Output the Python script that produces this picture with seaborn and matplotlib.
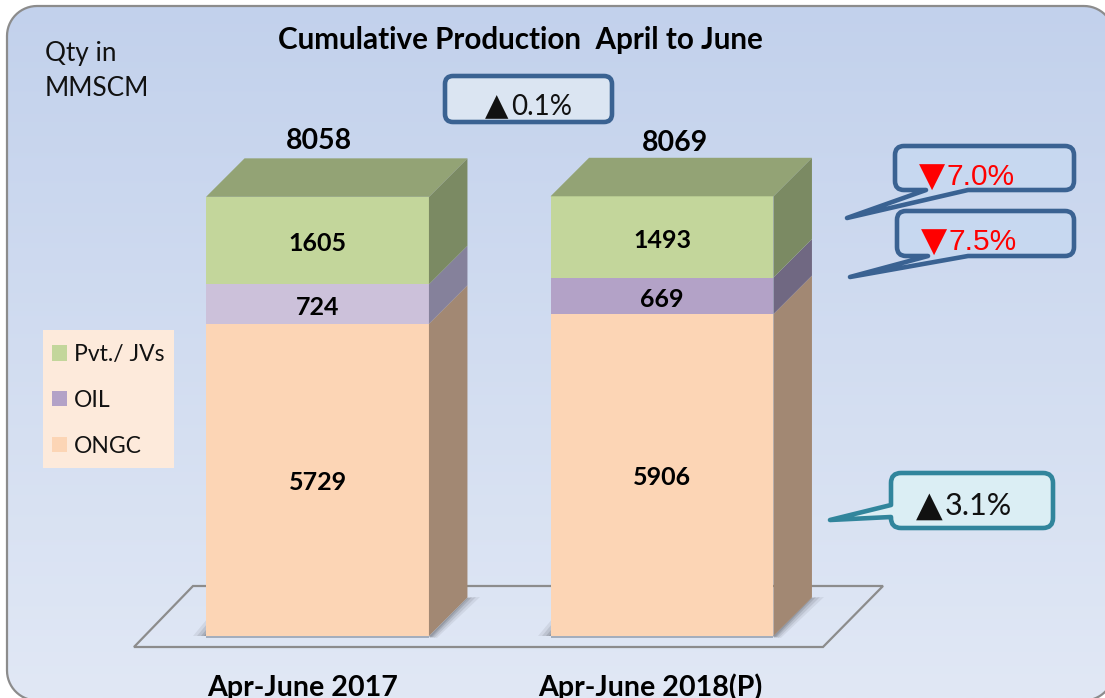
import numpy as np
import matplotlib
matplotlib.use('Agg')
import matplotlib.pyplot as plt
from matplotlib.patches import PathPatch, Patch, Polygon, Rectangle
from matplotlib.path import Path
import seaborn as sns

periods = ['Apr-June 2017', 'Apr-June 2018(P)']
ongc = [5729, 5906]
oil = [724, 669]
pvt = [1605, 1493]
totals = [8058, 8069]

legend_names = ['Pvt./ JVs', 'OIL', 'ONGC']
title = 'Cumulative Production  April to June'
unit_label = 'Qty in\nMMSCM'

sns.set_theme(style='white')
plt.rcParams['font.family'] = ['Lato', 'DejaVu Sans']

W, H = 1105, 698
fig = plt.figure(figsize=(W / 100, H / 100), dpi=100)
fig.patch.set_facecolor('white')

# background layer, works in pixels of the picture
bg = fig.add_axes([0, 0, 1, 1], zorder=0)
bg.axis('off')

# panel runs off the right and bottom edge, plain segments so agg clips it cleanly
px0, py0, px1, py1, rad = 7, 6, 1114, 700.5, 30
pts = []
for cx, cy, a0 in [(px1 - rad, py0 + rad, -90), (px1 - rad, py1 - rad, 0),
                   (px0 + rad, py1 - rad, 90), (px0 + rad, py0 + rad, 180)]:
    for a in np.radians(np.linspace(a0, a0 + 90, 16)):
        pts.append((cx + rad * np.cos(a), cy + rad * np.sin(a)))
panel = Polygon(pts, closed=True, fc='none', ec='#8c8c8c', lw=1.6, zorder=3)
bg.add_patch(panel)
grad = np.linspace(0, 1, 256)[:, None]
cmap = matplotlib.colors.LinearSegmentedColormap.from_list('panel', ['#c2d1ec', '#e1e8f5'])
img = bg.imshow(grad, cmap=cmap, extent=(0, W, H, 0), aspect='auto', zorder=1)
img.set_clip_path(panel)
bg.set_xlim(0, W)
bg.set_ylim(H, 0)

# floor
bg.add_patch(Polygon([(134, 647), (193, 586), (883, 586), (823, 647)], closed=True,
                     fc='none', ec='#8c8c8c', lw=1.6, zorder=2))

# soft shadows under the bars
for bx0, bx1 in [(206, 429), (551, 773)]:
    for grow, alpha in [(13, 0.12), (9, 0.18), (5, 0.25), (2, 0.32)]:
        bg.add_patch(Polygon([(bx1, 636), (bx1 + 38, 598), (bx1 + 38 + grow, 597),
                              (bx1 + grow * 0.6, 638)], closed=True,
                             fc='#6b6f78', ec='none', alpha=alpha, zorder=4))
        bg.add_patch(Polygon([(bx0, 636 - grow * 1.2), (bx0 - grow, 636), (bx0, 636)], closed=True,
                             fc='#6b6f78', ec='none', alpha=alpha, zorder=4))
    bg.add_patch(Rectangle((bx0, 635), bx1 - bx0, 2.5, fc='#5f6b7c', ec='none', alpha=0.45, zorder=4))

# bars axes: bottom edge sits on the bar base line
base_px = 636
px_per_unit = 0.0545
ax = fig.add_axes([0, 1 - base_px / H, 1, base_px / H], zorder=1)
ax.patch.set_alpha(0)

# stacked by drawing the running sums, tallest first
upto_oil = np.add(ongc, oil)
upto_pvt = upto_oil + np.array(pvt)
for vals, colors in [(upto_pvt, ['#c3d69b', '#c3d69b']),
                     (upto_oil, ['#ccc1da', '#b3a2c7']),
                     (ongc, ['#fcd5b5', '#fcd5b5'])]:
    sns.barplot(x=periods, y=vals, hue=periods, palette=colors, saturation=1,
                width=0.647, legend=False, linewidth=0, edgecolor='none', ax=ax)

px_per_cat = 344.5
ax.set_xlim(-317.5 / px_per_cat, (W - 317.5) / px_per_cat)
ax.set_ylim(0, base_px / px_per_unit)
ax.set_xlabel('')
ax.set_ylabel('')
ax.set_yticks([])
# labels sit a little left of the bar centres in the original
ax.set_xticks([-0.044, 0.965], periods, fontsize=20.6, fontweight='bold', color='black', va='baseline')
ax.tick_params(axis='x', length=0, pad=43)
sns.despine(ax=ax, left=True, bottom=True)

# 3d faces, from the same values
dx = 38.5 / px_per_cat
dy = 38.5 / px_per_unit
half = 0.647 / 2
side_colors = {'ongc': ['#a28873', '#a28873'], 'oil': ['#85819b', '#706882'], 'pvt': ['#7b8a63', '#7b8a63']}
for i in range(2):
    xr = i + half
    xl = i - half
    y1 = ongc[i]
    y2 = upto_oil[i]
    y3 = upto_pvt[i]
    for lo, hi, key in [(0, y1, 'ongc'), (y1, y2, 'oil'), (y2, y3, 'pvt')]:
        ax.add_patch(Polygon([(xr, lo), (xr + dx, lo + dy), (xr + dx, hi + dy), (xr, hi)], closed=True,
                             fc=side_colors[key][i], ec='none'))
    ax.add_patch(Polygon([(xl, y3), (xl + dx, y3 + dy), (xr + dx, y3 + dy), (xr, y3)], closed=True,
                         fc='#93a375', ec='none'))
    ax.text(i, y1 / 2 - 45, str(ongc[i]), ha='center', va='center', fontsize=18, fontweight='bold', color='black')
    ax.text(i, y1 + oil[i] / 2 - 65, str(oil[i]), ha='center', va='center', fontsize=18, fontweight='bold', color='black')
    ax.text(i, y2 + pvt[i] / 2 - 60, str(pvt[i]), ha='center', va='center', fontsize=18, fontweight='bold', color='black')

# top layer for texts and callouts
top = fig.add_axes([0, 0, 1, 1], zorder=2)
top.set_xlim(0, W)
top.set_ylim(H, 0)
top.axis('off')
top.patch.set_alpha(0)


def callout(x0, y0, x1, y1, r, ec, fc, bottom_tail=None, left_tail=None):
    verts = [(x0 + r, y0), (x1 - r, y0), (x1, y0), (x1, y0 + r), (x1, y1 - r), (x1, y1), (x1 - r, y1)]
    codes = [Path.MOVETO, Path.LINETO, Path.CURVE3, Path.CURVE3, Path.LINETO, Path.CURVE3, Path.CURVE3]
    for p in (bottom_tail or []):
        verts.append(p)
        codes.append(Path.LINETO)
    verts += [(x0 + r, y1), (x0, y1), (x0, y1 - r)]
    codes += [Path.LINETO, Path.CURVE3, Path.CURVE3]
    for p in (left_tail or []):
        verts.append(p)
        codes.append(Path.LINETO)
    verts += [(x0, y0 + r), (x0, y0), (x0 + r, y0), (x0 + r, y0)]
    codes += [Path.LINETO, Path.CURVE3, Path.CURVE3, Path.CLOSEPOLY]
    top.add_patch(PathPatch(Path(verts, codes), fc=fc, ec=ec, lw=3.3, joinstyle='round'))


def change(x_mark, x_text, y, mark, txt, mark_size, size, color, family):
    top.text(x_mark, y, mark, ha='center', va='center', fontsize=mark_size, color=color, family='DejaVu Sans')
    top.text(x_text, y, txt, ha='left', va='center', fontsize=size, color=color, family=family)


blue = '#3a6292'
teal = '#31859c'
callout(445, 76, 612, 122, 8, blue, '#dbe5f2')
callout(895, 146, 1074, 190, 9, blue, '#c7d8f0', bottom_tail=[(968, 190), (847, 218), (926, 190)])
callout(897, 211, 1074, 256, 9, blue, '#c7d8f0', bottom_tail=[(968, 256), (850, 277), (928, 256)])
callout(891, 473, 1053, 528, 10, teal, '#dbeef4', left_tail=[(891, 517), (830, 520), (891, 505)])

arial = ['Liberation Sans', 'DejaVu Sans']
change(497, 511, 107, '▲', '0.1%', 22, 20, '#111111', 'Lato')
change(932, 946, 177, '▼', '7.0%', 24.5, 21.5, '#ff0000', arial)
change(934, 948, 242, '▼', '7.5%', 24.5, 21.5, '#ff0000', arial)
change(929, 945, 506, '▲', '3.1%', 25, 22, '#111111', 'Lato')

top.text(520, 40, title, ha='center', va='center', fontsize=21.3, fontweight='bold', color='black')
top.text(45, 71, unit_label, ha='left', va='center', fontsize=18.8, color='#111111', linespacing=1.55)
top.text(319, 141, str(totals[0]), ha='center', va='center', fontsize=20.5, fontweight='bold', color='black')
top.text(675, 143, str(totals[1]), ha='center', va='center', fontsize=20.5, fontweight='bold', color='black')

# legend box is a bit tighter than the legend's own frame
top.add_patch(Rectangle((43, 330), 131, 138, fc='#fdeadb', ec='none'))
handles = [Patch(fc='#c3d69b', ec='none'), Patch(fc='#b3a2c7', ec='none'), Patch(fc='#fcd5b5', ec='none')]
top.legend(handles, legend_names, loc='upper left', bbox_to_anchor=(52 / W, 1 - 344 / H),
           bbox_transform=fig.transFigure, borderaxespad=0, borderpad=0, frameon=False,
           fontsize=16.5, handlelength=0.65, handleheight=0.65, handletextpad=0.3,
           labelspacing=1.085, labelcolor='#111111')

fig.savefig('out.png', dpi=100)
